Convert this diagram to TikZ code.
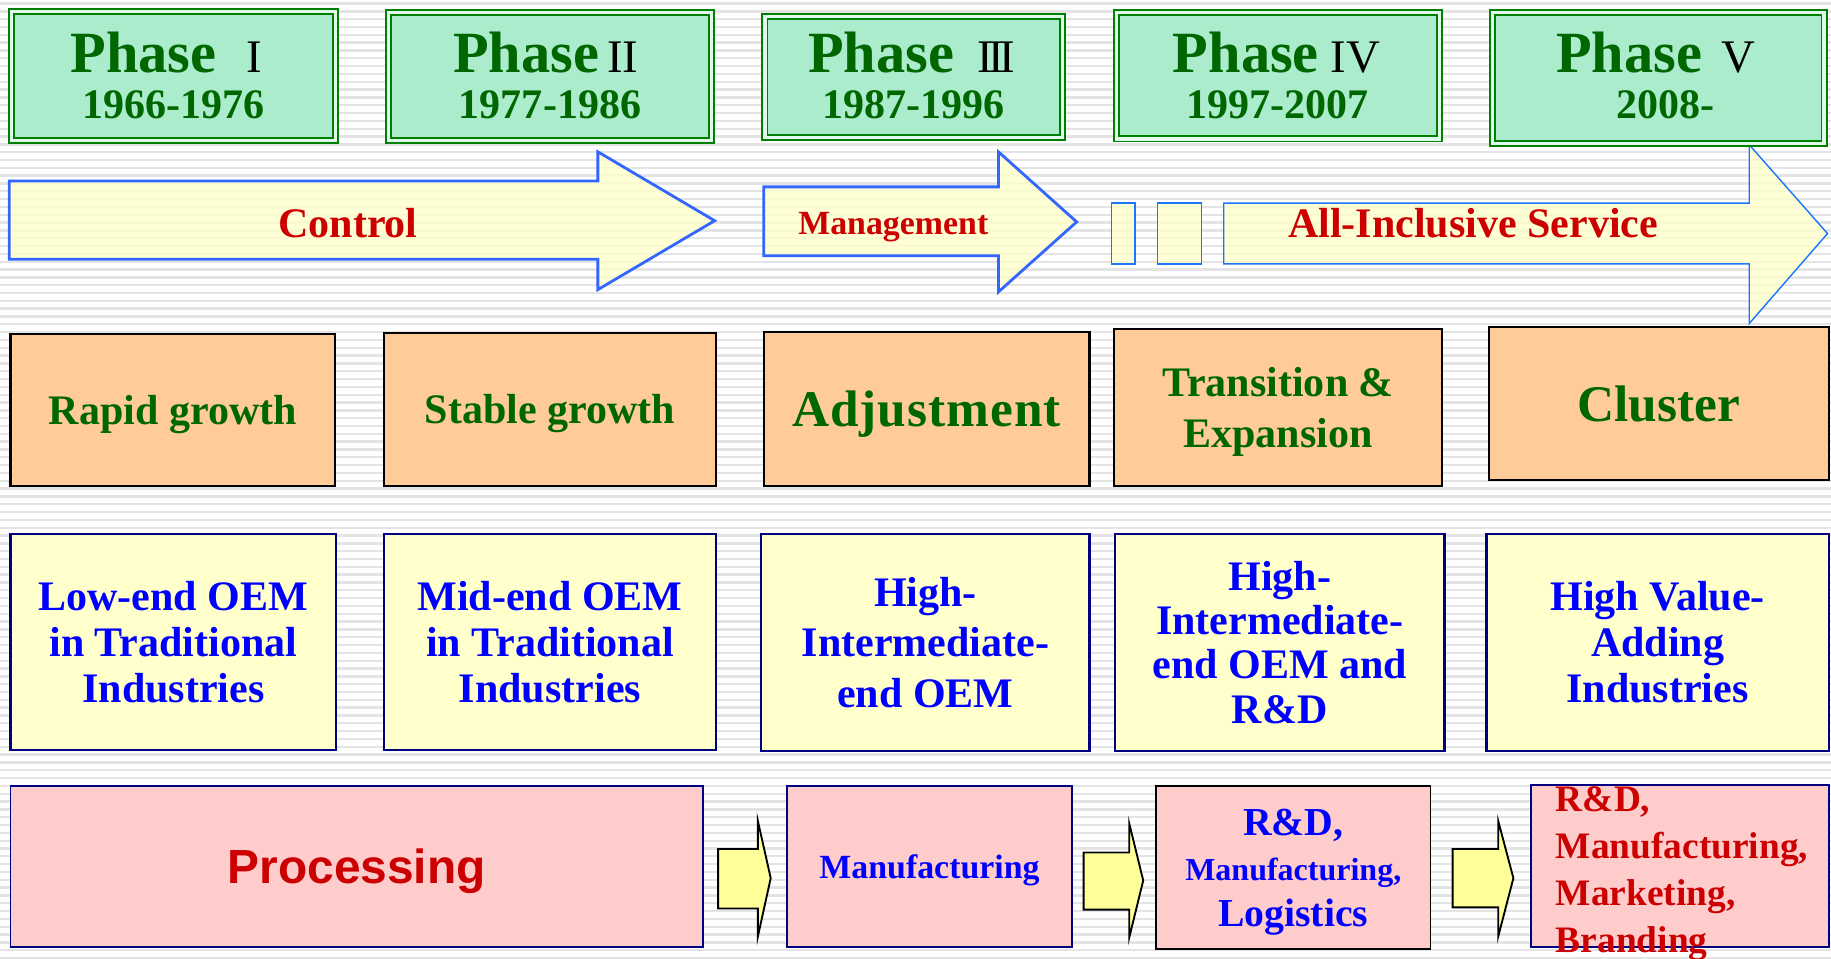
\documentclass[tikz,border=0pt]{standalone}
\usepackage{fontspec}
\setmainfont{Liberation Serif}
\newfontfamily\arialfont{Liberation Sans}
\usepackage{tikz}

\definecolor{phasefill}{RGB}{170,236,204}
\definecolor{phaseline}{RGB}{0,128,0}
\definecolor{darkgreen}{RGB}{0,102,0}
\definecolor{arrowfill}{RGB}{255,255,204}
\definecolor{arrowline}{RGB}{51,102,255}
\definecolor{thinblue}{RGB}{26,117,255}
\definecolor{orangefill}{RGB}{255,204,153}
\definecolor{creamfill}{RGB}{255,255,204}
\definecolor{navy}{RGB}{0,0,128}
\definecolor{pinkfill}{RGB}{255,204,204}
\definecolor{textblue}{RGB}{0,0,255}
\definecolor{textred}{RGB}{204,0,0}
\definecolor{stepyellow}{RGB}{255,255,153}
\definecolor{stripe}{RGB}{228,228,228}

\newcommand{\rom}[1]{{\color{black}\mdseries\fontsize{20}{20}\selectfont #1}}

\tikzset{
  phasebox/.style={draw=phaseline, double=phasefill!35!white, line width=0.8pt,
    double distance=1.4pt, fill=phasefill, inner sep=0pt},
  phasetitle/.style={anchor=base, inner sep=0pt, text=darkgreen,
    font=\fontsize{25}{25}\selectfont\bfseries},
  yearlabel/.style={anchor=base, inner sep=0pt, text=darkgreen,
    font=\fontsize{18}{18}\selectfont\bfseries},
  bigarrow/.style={draw=arrowline, line width=1.2pt, fill=arrowfill,
    fill opacity=0.8, line join=miter},
  thinarrow/.style={draw=thinblue, line width=0.6pt, fill=arrowfill, fill opacity=0.8},
  arrowlabel/.style={anchor=base, inner sep=0pt, text=textred,
    font=\fontsize{18}{18}\selectfont\bfseries},
  stagebox/.style={draw=black, line width=0.9pt, fill=orangefill, inner sep=0pt,
    align=center, text depth=0pt, text=darkgreen, font=\fontsize{18}{22}\selectfont\bfseries},
  oembox/.style={draw=navy, line width=0.9pt, fill=creamfill, inner sep=0pt,
    align=center, text depth=0pt, text=textblue, font=\fontsize{18}{19.75}\selectfont\bfseries},
  chainbox/.style={draw=navy, line width=0.8pt, fill=pinkfill, inner sep=0pt,
    align=center, text depth=0pt},
  steparrow/.style={draw=black, line width=0.8pt, fill=stepyellow, line join=miter},
}

\begin{document}
\begin{tikzpicture}[x=0.5pt,y=-0.5pt]
    \useasboundingbox (0,0) rectangle (1568,821);
    \fill[white] (0,0) rectangle (1568,821);
    % striped background
    \foreach \i in {0,...,122}
      \fill[stripe] (0,\i*6.7+2) rectangle (1568,\i*6.7+4);
    % strategy arrows
    \draw[bigarrow] (8,155) -- (512,155) -- (512,130) -- (612,189) -- (512,248)%
      -- (512,222) -- (8,222) -- cycle;
    \draw[bigarrow] (654,160) -- (855,160) -- (855,130) -- (922,190) -- (855,250)%
      -- (855,219) -- (654,219) -- cycle;
    \draw[thinarrow] (952,174) rectangle (972,226);
    \draw[thinarrow] (991,174) rectangle (1029,226);
    \draw[thinarrow] (1048,174) -- (1498,174) -- (1498,124) -- (1565,200) -- (1498,277)%
      -- (1498,226) -- (1048,226) -- cycle;
    \node[arrowlabel] (ctl) at (298,203) {Control};
    \node[arrowlabel, font=\fontsize{14.5}{14.5}\selectfont\bfseries] (mgt) at (765,201) {Management};
    \node[arrowlabel] (svc) at (1261.5,203) {All-Inclusive Service};
    % phases
    \node[phasebox, minimum width=138.5pt, minimum height=55pt] (p1) at (148.5,65) {};
    \node[phasebox, minimum width=138pt, minimum height=54.5pt] (p2) at (471,65.5) {};
    \node[phasebox, minimum width=127.5pt, minimum height=52pt] (p3) at (782.5,66) {};
    \node[phasebox, minimum width=138.5pt, minimum height=54pt] (p4) at (1094.5,65) {};
    \node[phasebox, minimum width=142pt, minimum height=56pt] (p5) at (1420,67) {};
    \node[phasetitle] (p1t) at (142.5,62) {Phase\hspace{13pt}\rom{I}};
    \node[phasetitle] (p2t) at (467.5,62) {Phase\hspace{3.5pt}\rom{II}};
    \node[phasetitle] (p3t) at (780.5,62) {Phase\hspace{10pt}\rom{I\kern-2pt I\kern-2pt I}};
    \node[phasetitle] (p4t) at (1093,62) {Phase\hspace{5pt}\rom{IV}};
    \node[phasetitle] (p5t) at (1418,62) {Phase\hspace{8.5pt}\rom{V}};
    \node[yearlabel] (p1y) at (148.5,101.5) {1966-1976};
    \node[yearlabel] (p2y) at (471,101.5) {1977-1986};
    \node[yearlabel] (p3y) at (782.5,101.5) {1987-1996};
    \node[yearlabel] (p4y) at (1094,101.5) {1997-2007};
    \node[yearlabel] (p5y) at (1426,101.5) {2008-};
    % development stages
    \node[stagebox, minimum width=139pt, minimum height=65pt] (s1) at (148,351) {Rapid growth};
    \node[stagebox, minimum width=142pt, minimum height=65.5pt] (s2) at (471,350.5) {Stable growth};
    \node[stagebox, minimum width=139.5pt, minimum height=66pt,%
      font=\fontsize{22}{22}\selectfont\bfseries\addfontfeature{LetterSpace=2}] (s3) at (793.5,350) {Adjustment};
    \node[stagebox, minimum width=140.5pt, minimum height=67pt] (s4) at (1094.5,349) {Transition \&\\Expansion};
    \node[stagebox, minimum width=145.5pt, minimum height=65.5pt,%
      font=\fontsize{22}{22}\selectfont\bfseries] (s5) at (1420.5,345.5) {Cluster};
    % industries
    \node[oembox, minimum width=139.5pt, minimum height=92.5pt] (o1) at (148.5,549.5)%
      {Low-end OEM\\in Traditional\\Industries};
    \node[oembox, minimum width=142pt, minimum height=92.5pt] (o2) at (471,549.5)%
      {Mid-end OEM\\in Traditional\\Industries};
    \node[oembox, minimum width=140.5pt, minimum height=93pt,%
      font=\fontsize{18}{21.75}\selectfont\bfseries] (o3) at (792.5,550)%
      {High-\\Intermediate-\\end OEM};
    \node[oembox, minimum width=141pt, minimum height=93pt,%
      font=\fontsize{18}{18.9}\selectfont\bfseries] (o4) at (1096,550)%
      {High-\\Intermediate-\\end OEM and\\R\&D};
    \node[oembox, minimum width=146.5pt, minimum height=93pt] (o5) at (1419.5,550)%
      {High Value-\\Adding\\Industries};
    % value chain
    \node[chainbox, minimum width=296.5pt, minimum height=69pt, text=textred,%
      font=\arialfont\fontsize{20.5}{20.5}\selectfont\bfseries] (m1) at (305.5,742) {Processing};
    \node[chainbox, minimum width=122pt, minimum height=69pt, text=textblue,%
      font=\fontsize{14.5}{14.5}\selectfont\bfseries] (m2) at (796,742) {Manufacturing};
    \node[chainbox, draw=black, minimum width=117.5pt, minimum height=70pt, text=textblue,%
      font=\fontsize{17}{19.5}\selectfont\bfseries] (m3) at (1107.5,743)%
      {R\&D,\\{\fontsize{13.7}{19.5}\selectfont Manufacturing,}\\Logistics};
    \node[chainbox, minimum width=127.5pt, minimum height=69.5pt] (m4) at (1438.5,741.5) {};
    \node[anchor=north west, inner sep=0pt, align=left, text=textred,%
      font=\fontsize{16}{20.2}\selectfont\bfseries] (m4t) at (1332,673)%
      {R\&D,\\Manufacturing,\\Marketing,\\Branding};
    \draw[steparrow] (615,727) -- (649,727) -- (649,703) -- (660,752) -- (649,802)%
      -- (649,778) -- (615,778) -- cycle;
    \draw[steparrow] (928,730) -- (967,730) -- (967,705) -- (979,754) -- (967,803)%
      -- (967,779) -- (928,779) -- cycle;
    \draw[steparrow] (1244,727) -- (1283,727) -- (1283,703) -- (1296,752) -- (1283,802)%
      -- (1283,777) -- (1244,777) -- cycle;
  \end{tikzpicture}
\end{document}
